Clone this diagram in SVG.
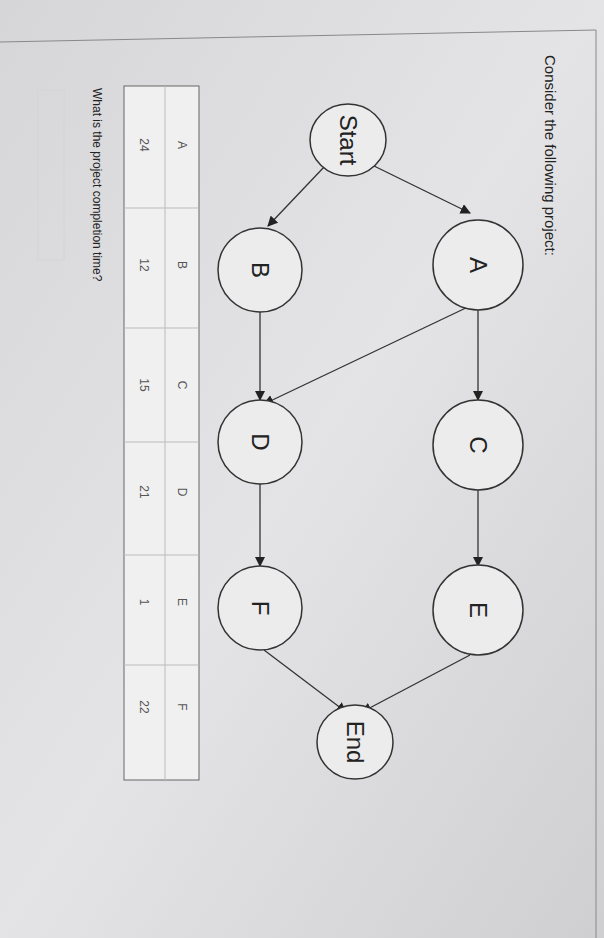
<svg xmlns="http://www.w3.org/2000/svg" width="604" height="938" viewBox="0 0 604 938">
<defs>
<linearGradient id="bg" x1="0" y1="0" x2="1" y2="1"><stop offset="0" stop-color="#d6d6d8"/><stop offset="0.5" stop-color="#e4e4e6"/><stop offset="1" stop-color="#cfcfd1"/></linearGradient>
<marker id="ar" viewBox="0 0 10 10" refX="9" refY="5" markerWidth="8" markerHeight="8" orient="auto"><path d="M0,0L10,5L0,10z" fill="#222"/></marker>
<style>
.n{fill:#ececed;stroke:#333;stroke-width:1.5}
.t{font-family:"Liberation Sans",Arial,sans-serif;fill:#222}
.big{font-size:24px}
.sm{font-size:12px;fill:#555}
.e{stroke:#333;stroke-width:1.3;fill:none;marker-end:url(#ar)}
.g{stroke:#bbb;stroke-width:1;fill:none}
</style>
</defs>
<rect width="604" height="938" fill="url(#bg)"/>
<path d="M0,42 L596,30 L596,938" fill="none" stroke="#888" stroke-width="1"/>
<text class="t" font-size="15" transform="translate(545,55) rotate(90)">Consider the following project:</text>
<g id="connectors">
<line class="e" x1="372" y1="165" x2="470" y2="213"/>
<line class="e" x1="325" y1="166" x2="268" y2="226"/>
<line class="e" x1="478" y1="310" x2="478" y2="400"/>
<line class="e" x1="470" y1="306" x2="264" y2="404"/>
<line class="e" x1="260" y1="312" x2="260" y2="400"/>
<line class="e" x1="478" y1="490" x2="478" y2="566"/>
<line class="e" x1="260" y1="484" x2="260" y2="566"/>
<line class="e" x1="470" y1="655" x2="362" y2="712"/>
<line class="e" x1="264" y1="650" x2="346" y2="712"/>
</g>
<g id="Start"><ellipse class="n" cx="348" cy="140" rx="38" ry="36"/><text class="t big" transform="translate(340,140) rotate(90)" text-anchor="middle">Start</text></g>
<g id="A"><circle class="n" cx="478" cy="265" r="45"/><text class="t big" transform="translate(470,265) rotate(90)" text-anchor="middle">A</text></g>
<g id="B"><circle class="n" cx="260" cy="270" r="42"/><text class="t big" transform="translate(252,270) rotate(90)" text-anchor="middle">B</text></g>
<g id="C"><circle class="n" cx="478" cy="445" r="45"/><text class="t big" transform="translate(470,445) rotate(90)" text-anchor="middle">C</text></g>
<g id="D"><circle class="n" cx="260" cy="442" r="42"/><text class="t big" transform="translate(252,442) rotate(90)" text-anchor="middle">D</text></g>
<g id="E"><circle class="n" cx="478" cy="610" r="45"/><text class="t big" transform="translate(470,610) rotate(90)" text-anchor="middle">E</text></g>
<g id="F"><circle class="n" cx="260" cy="608" r="42"/><text class="t big" transform="translate(252,608) rotate(90)" text-anchor="middle">F</text></g>
<g id="End"><ellipse class="n" cx="355" cy="742" rx="38" ry="37"/><text class="t big" transform="translate(347,742) rotate(90)" text-anchor="middle">End</text></g>
<g id="table">
<rect x="124" y="86" width="75" height="694" fill="#f0f0f1" stroke="#666"/>
<line class="g" x1="165" y1="86" x2="165" y2="780"/>
<line class="g" x1="124" y1="208" x2="199" y2="208"/>
<line class="g" x1="124" y1="328" x2="199" y2="328"/>
<line class="g" x1="124" y1="442" x2="199" y2="442"/>
<line class="g" x1="124" y1="555" x2="199" y2="555"/>
<line class="g" x1="124" y1="665" x2="199" y2="665"/>
<g class="t sm">
<text transform="translate(178,145) rotate(90)" text-anchor="middle">A</text>
<text transform="translate(178,265) rotate(90)" text-anchor="middle">B</text>
<text transform="translate(178,385) rotate(90)" text-anchor="middle">C</text>
<text transform="translate(178,492) rotate(90)" text-anchor="middle">D</text>
<text transform="translate(178,602) rotate(90)" text-anchor="middle">E</text>
<text transform="translate(178,707) rotate(90)" text-anchor="middle">F</text>
<text transform="translate(140,145) rotate(90)" text-anchor="middle">24</text>
<text transform="translate(140,265) rotate(90)" text-anchor="middle">12</text>
<text transform="translate(140,385) rotate(90)" text-anchor="middle">15</text>
<text transform="translate(140,492) rotate(90)" text-anchor="middle">21</text>
<text transform="translate(140,602) rotate(90)" text-anchor="middle">1</text>
<text transform="translate(140,707) rotate(90)" text-anchor="middle">22</text>
</g>
</g>
<text class="t" font-size="12" fill="#555" transform="translate(93,88) rotate(90)">What is the project completion time?</text>
<rect x="38" y="90" width="26" height="170" fill="none" stroke="#d4d4d4"/>
</svg>
